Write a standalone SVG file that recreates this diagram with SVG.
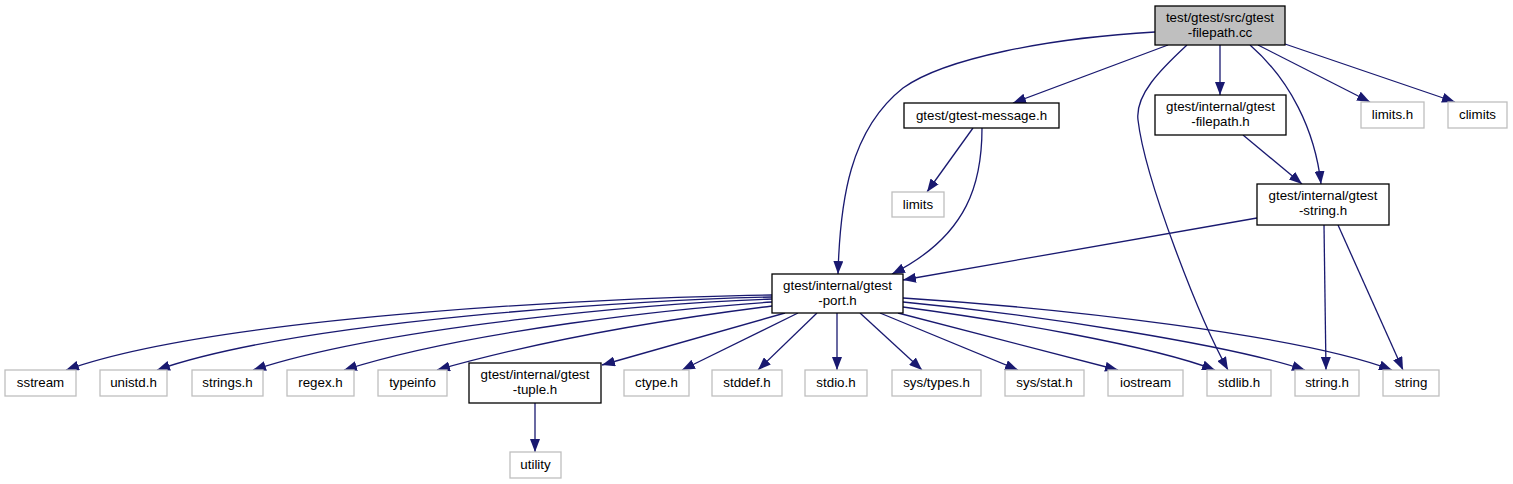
<svg xmlns="http://www.w3.org/2000/svg" width="1513" height="484" viewBox="0 0 1513 484">
<style>
text{font-family:"Liberation Sans",Arial,sans-serif;font-size:13.33px;fill:#000;text-anchor:middle}
.int rect{fill:#fff;stroke:#000;stroke-width:1.3}
.ext rect{fill:#fff;stroke:#bfbfbf;stroke-width:1.3}
.main rect{fill:#bfbfbf;stroke:#000;stroke-width:1.3}
#edges path{fill:none;stroke:#191970;stroke-width:1.3;marker-end:url(#arr)}
</style>
<defs>
<marker id="arr" viewBox="0 0 13 10" refX="13" refY="5" markerWidth="13" markerHeight="10" markerUnits="userSpaceOnUse" orient="auto">
<polygon points="0,0 13,5 0,10" fill="#191970"/>
</marker>
</defs>
<rect width="1513" height="484" fill="#fff"/>
<g id="edges">
<path d="M1155,32 C1050,38 945,58 903,88 C850,130 840,200 838,274"/>
<path d="M1168,45 L1013,103"/>
<path d="M1187,45 C1160,70 1135,95 1138,120 C1145,180 1200,320 1228,370"/>
<path d="M1220,45 L1220,95"/>
<path d="M1250,45 C1290,80 1315,130 1321,184"/>
<path d="M1258,45 L1370,102"/>
<path d="M1285,44 L1455,102"/>
<path d="M973,128 L927,192"/>
<path d="M982,128 C982,180 970,235 892,274"/>
<path d="M1243,135 L1302,184"/>
<path d="M1257,218 L903,280"/>
<path d="M1324,225 L1326,370"/>
<path d="M1338,225 L1403,370"/>
<path d="M772,295 C620,297 220,315 66,370"/>
<path d="M772,297 C640,300 300,320 157,370"/>
<path d="M772,299 C660,303 390,325 253,370"/>
<path d="M772,302 C680,308 470,330 344,370"/>
<path d="M772,306 C700,315 560,335 437,370"/>
<path d="M785,313 L602,365"/>
<path d="M798,313 L682,370"/>
<path d="M817,313 L758,370"/>
<path d="M837,313 L837,370"/>
<path d="M860,313 L922,370"/>
<path d="M880,313 L1018,370"/>
<path d="M898,313 L1118,370"/>
<path d="M903,307 C1000,320 1150,345 1215,370"/>
<path d="M903,302 C1040,315 1230,345 1305,370"/>
<path d="M903,298 C1060,308 1300,335 1392,370"/>
<path d="M535,403 L535,452"/>
</g>
<g id="n_main" class="main"><rect x="1155" y="6" width="130" height="39"/><text x="1220" y="22">test/gtest/src/gtest</text><text x="1220" y="37">-filepath.cc</text></g>
<g id="n_message" class="int"><rect x="904" y="103" width="155" height="25"/><text x="981.5" y="120">gtest/gtest-message.h</text></g>
<g id="n_filepath" class="int"><rect x="1155" y="95" width="131" height="40"/><text x="1220.5" y="111">gtest/internal/gtest</text><text x="1220.5" y="126">-filepath.h</text></g>
<g id="n_limitsh" class="ext"><rect x="1361" y="102" width="63" height="26"/><text x="1392.5" y="119">limits.h</text></g>
<g id="n_climits" class="ext"><rect x="1448" y="102" width="59" height="26"/><text x="1477.5" y="119">climits</text></g>
<g id="n_limits" class="ext"><rect x="892" y="192" width="52" height="25"/><text x="918" y="209">limits</text></g>
<g id="n_gstring" class="int"><rect x="1257" y="184" width="132" height="41"/><text x="1323" y="200">gtest/internal/gtest</text><text x="1323" y="215">-string.h</text></g>
<g id="n_port" class="int"><rect x="772" y="274" width="131" height="39"/><text x="837.5" y="290">gtest/internal/gtest</text><text x="837.5" y="305">-port.h</text></g>
<g id="n_sstream" class="ext"><rect x="5" y="370" width="71" height="26"/><text x="40.5" y="387">sstream</text></g>
<g id="n_unistd" class="ext"><rect x="100" y="370" width="67" height="26"/><text x="133.5" y="387">unistd.h</text></g>
<g id="n_strings" class="ext"><rect x="192" y="370" width="71" height="26"/><text x="227.5" y="387">strings.h</text></g>
<g id="n_regex" class="ext"><rect x="287" y="370" width="67" height="26"/><text x="320.5" y="387">regex.h</text></g>
<g id="n_typeinfo" class="ext"><rect x="378" y="370" width="69" height="26"/><text x="412.5" y="387">typeinfo</text></g>
<g id="n_tuple" class="int"><rect x="469" y="363" width="132" height="40"/><text x="535" y="379">gtest/internal/gtest</text><text x="535" y="394">-tuple.h</text></g>
<g id="n_utility" class="ext"><rect x="510" y="452" width="51" height="26"/><text x="535.5" y="469">utility</text></g>
<g id="n_ctype" class="ext"><rect x="624" y="370" width="65" height="26"/><text x="656.5" y="387">ctype.h</text></g>
<g id="n_stddef" class="ext"><rect x="712" y="370" width="70" height="26"/><text x="747" y="387">stddef.h</text></g>
<g id="n_stdio" class="ext"><rect x="805" y="370" width="62" height="26"/><text x="836" y="387">stdio.h</text></g>
<g id="n_systypes" class="ext"><rect x="892" y="370" width="89" height="26"/><text x="936.5" y="387">sys/types.h</text></g>
<g id="n_sysstat" class="ext"><rect x="1005" y="370" width="79" height="26"/><text x="1044.5" y="387">sys/stat.h</text></g>
<g id="n_iostream" class="ext"><rect x="1108" y="370" width="75" height="26"/><text x="1145.5" y="387">iostream</text></g>
<g id="n_stdlib" class="ext"><rect x="1207" y="370" width="64" height="26"/><text x="1239" y="387">stdlib.h</text></g>
<g id="n_stringh" class="ext"><rect x="1295" y="370" width="64" height="26"/><text x="1327" y="387">string.h</text></g>
<g id="n_string" class="ext"><rect x="1383" y="370" width="56" height="26"/><text x="1411" y="387">string</text></g>
</svg>
